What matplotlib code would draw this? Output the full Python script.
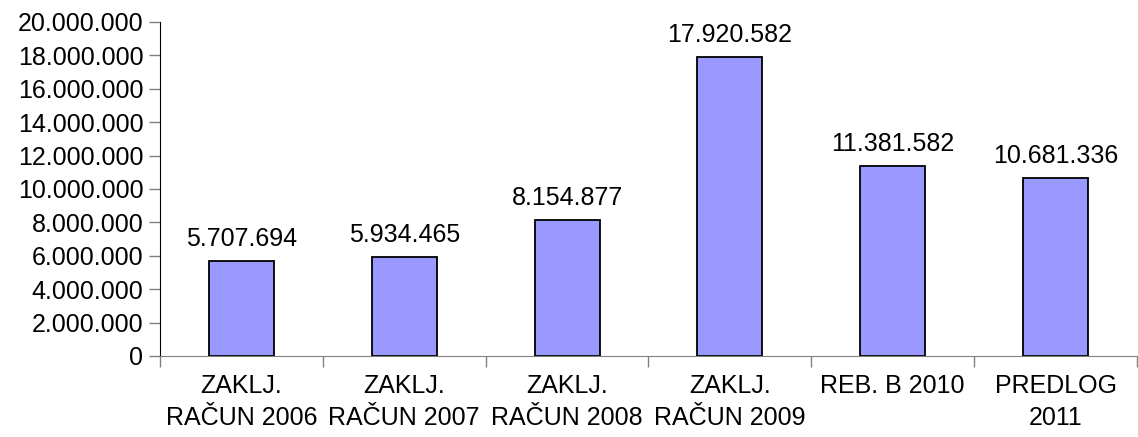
import matplotlib
matplotlib.use("Agg")
import matplotlib.pyplot as plt
from matplotlib.ticker import FuncFormatter, FixedLocator, NullFormatter
import numpy as np

plt.rcParams['font.family'] = ['Liberation Sans', 'DejaVu Sans']

categories = ["ZAKLJ.\nRAČUN 2006", "ZAKLJ.\nRAČUN 2007", "ZAKLJ.\nRAČUN 2008",
              "ZAKLJ.\nRAČUN 2009", "REB. B 2010", "PREDLOG\n2011"]
values = [5707694, 5934465, 8154877, 17920582, 11381582, 10681336]

def fmt(v):
    return "{:,.0f}".format(v).replace(",", ".")

fig = plt.figure(figsize=(11.38, 4.37), dpi=100)
ax = fig.add_axes([0.1406, 0.1854, 0.8585, 0.7643])

x = np.arange(len(categories))
ax.bar(x, values, width=0.4, color="#9999FF", edgecolor="black", linewidth=1.3)

for xi, v in zip(x, values):
    ax.annotate(fmt(v), (xi, v), xytext=(0, 7), textcoords="offset points",
                ha="center", va="bottom", fontsize=18)

ax.set_xlim(-0.5, len(categories) - 0.5)
ax.set_ylim(0, 20000000)
ax.set_yticks(np.arange(0, 20000001, 2000000))
ax.yaxis.set_major_formatter(FuncFormatter(lambda v, p: fmt(v)))
ax.tick_params(axis="y", labelsize=18, length=8, width=1, color="#808080", pad=4)

# category labels centred, tick marks between categories
ax.set_xticks(x)
ax.set_xticklabels(categories, fontsize=18, linespacing=1.4)
ax.tick_params(axis="x", which="major", length=0, pad=13)
ax.xaxis.set_minor_locator(FixedLocator(np.arange(-0.5, len(categories), 1)))
ax.xaxis.set_minor_formatter(NullFormatter())
ax.tick_params(axis="x", which="minor", length=8, width=1, color="#808080")

ax.spines["top"].set_visible(False)
ax.spines["right"].set_visible(False)
ax.spines["left"].set_color("black")
ax.spines["bottom"].set_color("#808080")

fig.savefig("out.png", dpi=100)
